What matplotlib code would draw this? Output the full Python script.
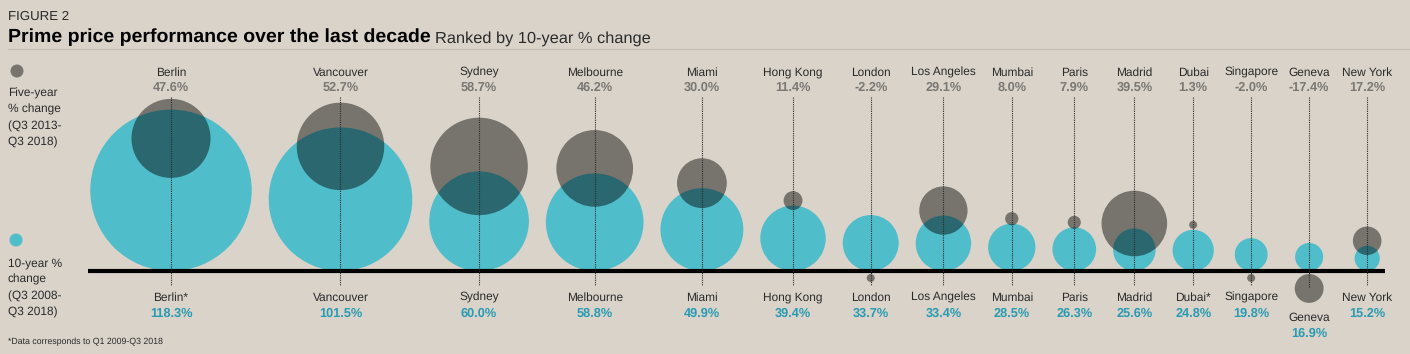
import numpy as np
import matplotlib
matplotlib.use("Agg")
import matplotlib.pyplot as plt
from matplotlib.patches import Circle

plt.rcParams["text.hinting"] = "no_hinting"

# ---------------- data ----------------
cities = ["Berlin", "Vancouver", "Sydney", "Melbourne", "Miami", "Hong Kong",
          "London", "Los Angeles", "Mumbai", "Paris", "Madrid", "Dubai",
          "Singapore", "Geneva", "New York"]
bottom_names = ["Berlin*", "Vancouver", "Sydney", "Melbourne", "Miami", "Hong Kong",
                "London", "Los Angeles", "Mumbai", "Paris", "Madrid", "Dubai*",
                "Singapore", "Geneva", "New York"]
ten_year = [118.3, 101.5, 60.0, 58.8, 49.9, 39.4, 33.7, 33.4, 28.5, 26.3,
            25.6, 24.8, 19.8, 16.9, 15.2]
five_year = [47.6, 52.7, 58.7, 46.2, 30.0, 11.4, -2.2, 29.1, 8.0, 7.9,
             39.5, 1.3, -2.0, -17.4, 17.2]

# ---------------- style ----------------
BG = "#d9d3c9"
TEAL = "#4fbdca"
TEAL_TXT = "#2a9bb3"
GREY_TXT = "#7a7874"
DARK = "#2b2b2b"
FONT = "Liberation Sans"
FS = 8.6
FSV = 9.2

W, H = 1410, 354
fig = plt.figure(figsize=(W / 100, H / 100), dpi=100, facecolor=BG)
ax = fig.add_axes([0, 0, 1, 1])
ax.set_xlim(0, W)
ax.set_ylim(H, 0)
ax.axis("off")
ax.set_facecolor(BG)

BASE = 271


def radius(v):
    # size scale: linear up to 60 %, compressed above
    return float(np.interp(abs(v), [0, 60, 120], [0, 49.8, 81.6]))


rt = [radius(v) for v in ten_year]
rg = [max(radius(v), 4.0) for v in five_year]

# packed horizontal layout (based on the 10-year circles)
xs = [171.0]
for i in range(1, len(cities)):
    xs.append(xs[-1] + max(rt[i - 1] + rt[i] + 17, 58))

# baseline
ax.plot([88, 1385], [BASE, BASE], color="black", lw=3, solid_capstyle="butt", zorder=5)

for i, c in enumerate(cities):
    x = xs[i]
    cy_t = BASE - rt[i]
    ax.add_patch(Circle((x, cy_t), rt[i], facecolor=TEAL, edgecolor="none", zorder=2))
    if five_year[i] >= 0:
        top = BASE - 2 * rt[i]
        cy_g = top + 1.1 * max(0, rt[i] - 50) - 5
    else:
        cy_g = BASE + rg[i] + 3
    ax.add_patch(Circle((x, cy_g), rg[i], facecolor="black", alpha=0.45,
                        edgecolor="none", zorder=3))
    yend = 285 if five_year[i] >= 0 else max(285, cy_g)
    ax.plot([x, x], [97, yend], color=DARK, lw=0.8, ls=(0, (1, 1)), zorder=6)
    # top labels
    ax.text(x, 75.5, c, ha="center", va="baseline", fontsize=FS, color=DARK,
            family=FONT)
    ax.text(x, 91, f"{five_year[i]:.1f}%", ha="center", va="baseline",
            fontsize=FSV, color=GREY_TXT, family=FONT, fontweight="bold")
    # bottom labels
    ny = 300.5
    if five_year[i] < 0:
        ny = max(ny, cy_g + rg[i] + 17.5)
    ax.text(x, ny, bottom_names[i], ha="center", va="baseline", fontsize=FS,
            color=DARK, family=FONT)
    ax.text(x, ny + 16, f"{ten_year[i]:.1f}%", ha="center", va="baseline",
            fontsize=FSV, color=TEAL_TXT, family=FONT, fontweight="bold")

# legend on the left
ax.add_patch(Circle((17, 71), 6.5, facecolor="black", alpha=0.45, edgecolor="none"))
ax.add_patch(Circle((16, 240), 6.5, facecolor=TEAL, edgecolor="none"))
for j, t in enumerate(["Five-year", "% change", "(Q3 2013-", "Q3 2018)"]):
    ax.text(8, 96.5 + j * 16.3, t, ha="left", va="baseline", fontsize=FS,
            color=DARK, family=FONT)
for j, t in enumerate(["10-year %", "change", "(Q3 2008-", "Q3 2018)"]):
    ax.text(8, 266.5 + j * 16.3, t, ha="left", va="baseline", fontsize=FS,
            color=DARK, family=FONT)

# titles
ax.text(8, 19.5, "FIGURE 2", ha="left", va="baseline", fontsize=9.5, color=DARK,
        family=FONT)
t1 = ax.text(8, 42.5, "Prime price performance over the last decade", ha="left",
             va="baseline", fontsize=14, color="black", family=FONT,
             fontweight="bold")
fig.canvas.draw()
bb = t1.get_window_extent()
x_end = bb.x1 + 4
ax.text(x_end, 42.5, "Ranked by 10-year % change", ha="left", va="baseline",
        fontsize=11.8, color=DARK, family=FONT)
ax.plot([8, W], [49, 49], color="#c4beb4", lw=0.8)

# footnote
ax.text(8, 344.5, "*Data corresponds to Q1 2009-Q3 2018", ha="left", va="baseline",
        fontsize=6.3, color=DARK, family=FONT)

fig.savefig("out.png", dpi=100, facecolor=BG)
